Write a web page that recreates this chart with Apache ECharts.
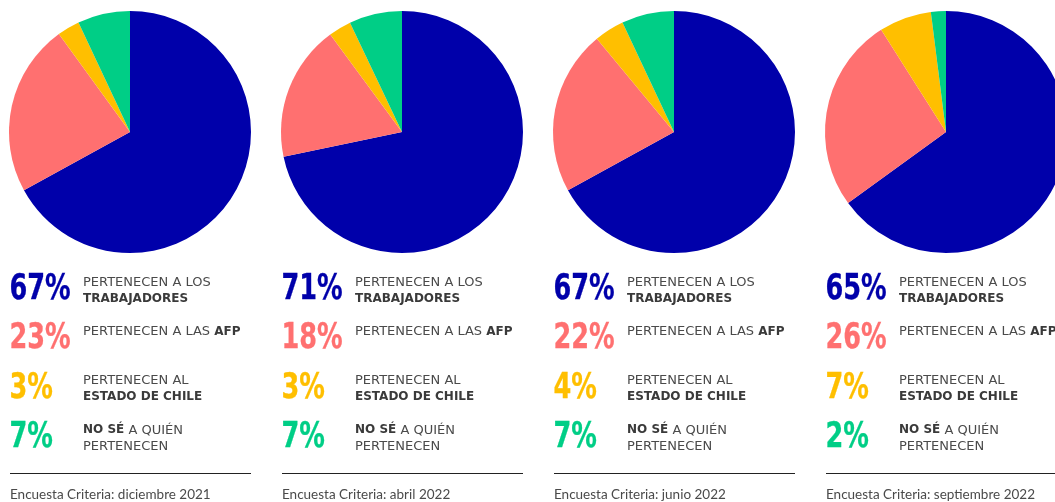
<!DOCTYPE html>
<html>
<head>
<meta charset="utf-8">
<script src="https://cdn.jsdelivr.net/npm/echarts@6/dist/echarts.min.js"></script>
<style>
html,body{margin:0;padding:0;background:#fff;}
#chart{width:1055px;height:502px;}
</style>
</head>
<body>
<div id="chart"></div>
<script>
const surveys = ['Encuesta Criteria: diciembre 2021', 'Encuesta Criteria: abril 2022', 'Encuesta Criteria: junio 2022', 'Encuesta Criteria: septiembre 2022'];
const categories = ['Trabajadores', 'AFP', 'Estado de Chile', 'No sé'];
const trabajadores = [67, 71, 67, 65];
const afp = [23, 18, 22, 26];
const estado = [3, 3, 4, 7];
const noSe = [7, 7, 7, 2];
const colors = ['#0000AA', '#FF7070', '#FFBF00', '#00CE86'];
const rowLabels = [
  '{r|PERTENECEN A LOS}\n{b|TRABAJADORES}',
  '{r|PERTENECEN A LAS }{b|AFP}',
  '{r|PERTENECEN AL}\n{b|ESTADO DE CHILE}',
  '{b|NO SÉ}{r| A QUIÉN}\n{r|PERTENECEN}'
];

const chart = echarts.init(document.getElementById('chart'), null, {renderer: 'canvas'});
const step = 272;
const series = [];
const graphic = [];
const valuesBy = [trabajadores, afp, estado, noSe];

surveys.forEach((s, i) => {
  const ox = step * i;
  series.push({
    type: 'pie',
    center: [130 + ox, 132],
    radius: [0, 121],
    startAngle: 90,
    clockwise: true,
    silent: true,
    animation: false,
    label: {show: false},
    labelLine: {show: false},
    itemStyle: {borderWidth: 0},
    data: categories.map((c, k) => ({name: c, value: valuesBy[k][i], itemStyle: {color: colors[k]}}))
  });
  valuesBy.forEach((arr, k) => {
    const y = 289.5 + k * 49.5;
    graphic.push({
      type: 'text', x: 9.5 + ox, y: y, scaleX: 0.79, silent: true,
      style: {
        text: arr[i] + '%', fill: colors[k], stroke: colors[k], lineWidth: 0.3,
        font: 'bold 36px "DejaVu Sans Condensed", "DejaVu Sans", sans-serif',
        verticalAlign: 'middle', align: 'left'
      }
    });
    graphic.push({
      type: 'text', x: 83 + ox, y: 274 + k * 49.3, silent: true,
      style: {
        text: rowLabels[k], verticalAlign: 'top', align: 'left',
        rich: {
          r: {font: '13px "DejaVu Sans", sans-serif', fill: '#4a4a4a', lineHeight: 16.5},
          b: {font: 'bold 12px "DejaVu Sans", sans-serif', fill: '#3a3a3a', lineHeight: 16.5}
        }
      }
    });
  });
  graphic.push({
    type: 'line', silent: true,
    shape: {x1: 10 + ox, y1: 473.5, x2: 251 + ox, y2: 473.5},
    style: {stroke: '#222', lineWidth: 1}
  });
  graphic.push({
    type: 'text', x: 10 + ox, y: 502, silent: true,
    style: {
      text: s, fill: '#4a4a4a',
      font: '13.5px "Lato", "Open Sans", sans-serif',
      verticalAlign: 'bottom', align: 'left'
    }
  });
});

chart.setOption({
  animation: false,
  series: series,
  graphic: graphic
});
</script>
</body>
</html>
